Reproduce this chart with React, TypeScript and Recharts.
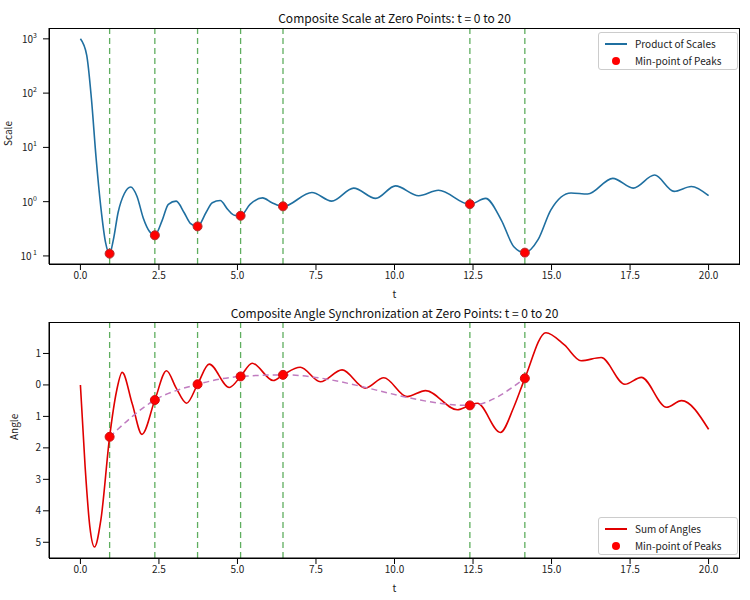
import React from 'react';
import {
    ComposedChart, Line, Scatter, XAxis, YAxis, ReferenceLine
} from 'recharts';

// zero points (t) and the values of the curves at them
const zeroT = [0.93, 2.37, 3.73, 5.1, 6.45, 12.4, 14.15];
const zeroScale = [0.11, 0.24, 0.35, 0.55, 0.82, 0.9, 0.115];
const zeroAngle = [-1.65, -0.48, 0.02, 0.27, 0.32, -0.65, 0.21];

// product of scales, sampled as log10 values
const scaleT = [0, 0.2, 0.35, 0.5, 0.65, 0.8, 0.93, 1.05, 1.2, 1.4, 1.6, 1.8, 2.0, 2.2, 2.37, 2.6, 2.8, 3.05, 3.3, 3.5, 3.73, 4.0, 4.2, 4.45, 4.7, 4.9, 5.1, 5.4, 5.8, 6.1, 6.45, 7.37, 8.0, 8.7, 9.4, 10.03, 10.77, 11.4, 12.4, 12.9, 13.4, 13.8, 14.15, 14.57, 14.98, 15.62, 16.15, 16.95, 17.6, 18.28, 18.9, 19.45, 20.0];
const scaleLog = [3.0, 2.7, 1.9, 0.8, -0.1, -0.75, -0.96, -0.7, -0.2, 0.15, 0.27, 0.1, -0.3, -0.55, -0.62, -0.35, -0.05, 0.01, -0.2, -0.4, -0.46, -0.2, -0.02, 0.02, -0.15, -0.25, -0.26, -0.05, 0.07, -0.02, -0.09, 0.17, 0.01, 0.25, 0.06, 0.29, 0.11, 0.21, -0.05, 0.06, -0.34, -0.83, -0.94, -0.7, -0.15, 0.16, 0.14, 0.43, 0.25, 0.49, 0.19, 0.28, 0.11];

// sum of angles
const angleT = [0, 0.15, 0.3, 0.45, 0.65, 0.93, 1.15, 1.33, 1.65, 1.96, 2.37, 2.74, 3.05, 3.38, 3.73, 4.1, 4.74, 5.1, 5.47, 6.14, 6.45, 7.0, 7.64, 8.33, 9.07, 9.66, 10.4, 10.99, 12.0, 12.4, 12.64, 13.37, 13.8, 14.15, 14.82, 15.41, 15.94, 16.58, 17.33, 17.86, 18.66, 19.14, 20.0];
const angleVal = [0.0, -2.6, -4.5, -5.15, -4.3, -1.65, -0.2, 0.4, -0.6, -1.57, -0.48, 0.45, -0.1, -0.58, 0.02, 0.66, -0.08, 0.27, 0.69, 0.14, 0.32, 0.56, 0.1, 0.48, -0.1, 0.23, -0.37, -0.18, -0.79, -0.65, -0.58, -1.51, -0.7, 0.21, 1.66, 1.27, 0.77, 0.87, 0.02, 0.24, -0.71, -0.5, -1.41];

const xTicks = [0, 2.5, 5, 7.5, 10, 12.5, 15, 17.5, 20];
const scaleTicks = [0.1, 1, 10, 100, 1000];
const angleTicks = [1, 0, -1, -2, -3, -4, -5];

const scaleData = scaleT.map((t, i) => ({ t, v: Math.pow(10, scaleLog[i]) }));
const angleData = angleT.map((t, i) => ({ t, v: angleVal[i] }));
const zeroScaleData = zeroT.map((t, i) => ({ t, v: zeroScale[i] }));
const zeroAngleData = zeroT.map((t, i) => ({ t, v: zeroAngle[i] }));

const font = '"Noto Sans CJK JP", "DejaVu Sans", sans-serif';
const tickStyle = { fontSize: 10, fill: '#222', fontFamily: font };

const LogTick = (props: any) => {
    const { x, y, payload } = props;
    const e = Math.round(Math.log10(payload.value));
    return (
        <text x={x - 4} y={y + 4} textAnchor="end" style={tickStyle}>
            10<tspan dy={-5} fontSize={7}>{e < 0 ? ' ' + Math.abs(e) : e}</tspan>
        </text>
    );
};

const Legend = ({ top, line, lineLabel }: { top: number; line: string; lineLabel: string }) => (
    <div style={{
        position: 'absolute', left: 598, top, width: 138, height: 36, border: '1px solid #ccc',
        borderRadius: 3, background: 'rgba(255,255,255,0.85)', fontFamily: font, fontSize: 10, color: '#222'
    }}>
        <div style={{ display: 'flex', alignItems: 'center', height: 17, marginTop: 2 }}>
            <div style={{ width: 22, height: 0, borderTop: `2px solid ${line}`, margin: '0 8px 0 6px' }} />
            {lineLabel}
        </div>
        <div style={{ display: 'flex', alignItems: 'center', height: 17 }}>
            <div style={{ width: 8, height: 8, borderRadius: 4, background: 'red', margin: '0 15px 0 13px' }} />
            Min-point of Peaks
        </div>
    </div>
);

const Box = ({ top, height }: { top: number; height: number }) => (
    <div style={{
        position: 'absolute', left: 49, top, width: 691, height, border: '1px solid #000',
        boxSizing: 'border-box', pointerEvents: 'none'
    }} />
);

const Title = ({ top, text }: { top: number; text: string }) => (
    <div style={{
        position: 'absolute', left: 49, width: 691, top, textAlign: 'center',
        fontFamily: font, fontSize: 12, color: '#111'
    }}>{text}</div>
);

const zeroLines = zeroT.map((t) => (
    <ReferenceLine key={t} x={t} stroke="#5fae5f" strokeDasharray="6 4" strokeWidth={1.3} />
));

const App = () => {
    return (
        <div style={{ position: 'absolute', left: 0, top: 0, width: 750, height: 600, background: '#fff' }}>
            <Title top={9} text="Composite Scale at Zero Points: t = 0 to 20" />
            <ComposedChart width={750} height={300} margin={{ top: 28, right: 10, left: 0, bottom: 0 }}>
                <XAxis dataKey="t" type="number" domain={[-1, 21]} ticks={xTicks} allowDataOverflow
                    tickFormatter={(v) => v.toFixed(1)} tick={tickStyle} height={36} stroke="#000"
                    label={{ value: 't', position: 'insideBottom', offset: 2, style: tickStyle }} />
                <YAxis type="number" scale="log" domain={[0.071, 1585]} ticks={scaleTicks} allowDataOverflow
                    tick={<LogTick />} width={49} stroke="#000"
                    label={{ value: 'Scale', angle: -90, position: 'insideLeft', offset: 8, style: tickStyle }} />
                {zeroLines}
                <Line data={scaleData} dataKey="v" type="monotone" stroke="#1f6fa0" strokeWidth={1.6}
                    dot={false} isAnimationActive={false} />
                <Scatter data={zeroScaleData} dataKey="v" fill="red" stroke="#a33" isAnimationActive={false}
                    shape={(p: any) => <circle cx={p.cx} cy={p.cy} r={4.5} fill="red" stroke="#b03030" />} />
            </ComposedChart>
            <Box top={28} height={237} />
            <Legend top={32} line="#1f6fa0" lineLabel="Product of Scales" />

            <Title top={304} text="Composite Angle Synchronization at Zero Points: t = 0 to 20" />
            <ComposedChart width={750} height={300} margin={{ top: 22, right: 10, left: 0, bottom: 0 }}>
                <XAxis dataKey="t" type="number" domain={[-1, 21]} ticks={xTicks} allowDataOverflow
                    tickFormatter={(v) => v.toFixed(1)} tick={tickStyle} height={42} stroke="#000"
                    label={{ value: 't', position: 'insideBottom', offset: 8, style: tickStyle }} />
                <YAxis type="number" domain={[-5.5, 2.0]} ticks={angleTicks} allowDataOverflow
                    tickFormatter={(v) => String(Math.abs(v))} tick={tickStyle} width={49} stroke="#000"
                    label={{ value: 'Angle', angle: -90, position: 'insideLeft', offset: 14, style: tickStyle }} />
                {zeroLines}
                <Line data={angleData} dataKey="v" type="monotone" stroke="#e00000" strokeWidth={1.6}
                    dot={false} isAnimationActive={false} />
                <Line data={zeroAngleData} dataKey="v" type="monotone" stroke="#c07cc0" strokeWidth={1.5}
                    strokeDasharray="6 4" dot={false} isAnimationActive={false} />
                <Scatter data={zeroAngleData} dataKey="v" fill="red" isAnimationActive={false}
                    shape={(p: any) => <circle cx={p.cx} cy={p.cy} r={4.5} fill="red" stroke="#d01010" />} />
            </ComposedChart>
            <Box top={322} height={237} />
            <Legend top={517} line="#e00000" lineLabel="Sum of Angles" />
        </div>
    );
};

export default App;
